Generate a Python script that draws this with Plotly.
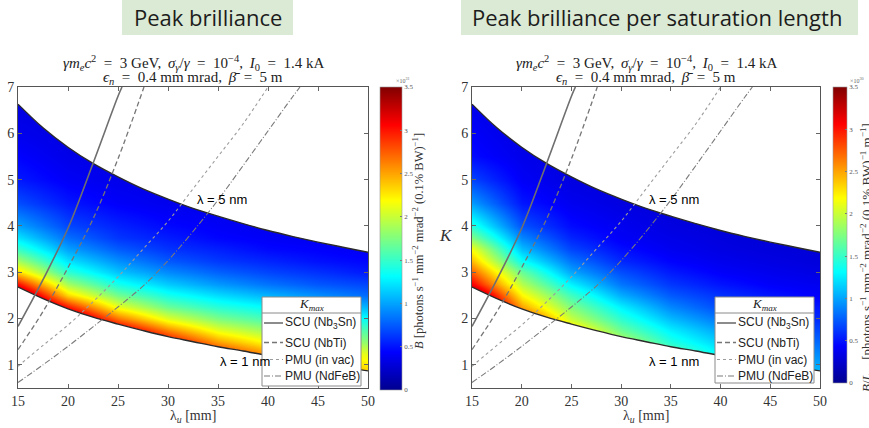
import plotly.graph_objects as go

W, H = 869, 428

# ---------------- data ----------------
# undulator period (mm) for the resonance boundaries
lam_u = [15, 17.5, 20, 22.5, 25, 27.5, 30, 32.5, 35, 37.5, 40, 42.5, 45, 47.5, 50]
k_1nm = [2.68, 2.43, 2.21, 2.03, 1.88, 1.74, 1.61, 1.50, 1.39, 1.30, 1.20, 1.12, 1.03, 0.95, 0.87]
k_5nm = [6.63, 6.12, 5.70, 5.35, 5.06, 4.80, 4.58, 4.38, 4.21, 4.05, 3.90, 3.77, 3.65, 3.54, 3.43]

# maximum K reachable by each undulator technology
scu_nb3sn_lu = [15, 17.5, 20, 22.5, 25, 25.4]
scu_nb3sn_k = [1.83, 2.84, 3.95, 5.35, 6.8, 7.0]
scu_nbti_lu = [15, 17.5, 20, 22.5, 25, 27.6]
scu_nbti_k = [1.33, 2.15, 3.1, 4.15, 5.45, 7.0]
pmu_invac_lu = [15, 17.5, 20, 22.5, 25, 27.5, 30, 32.5, 35, 37.5, 40]
pmu_invac_k = [0.97, 1.42, 1.86, 2.36, 2.9, 3.5, 4.1, 4.8, 5.5, 6.2, 7.0]
pmu_ndfeb_lu = [15, 17.5, 20, 22.5, 25, 27.5, 30, 32.5, 35, 37.5, 40, 42.5, 43.2]
pmu_ndfeb_k = [0.62, 1.0, 1.4, 1.82, 2.25, 2.7, 3.25, 3.88, 4.56, 5.3, 6.05, 6.8, 7.0]

# brilliance maps: one column per undulator period, one entry per K row
grid_lu = [15, 20, 25, 30, 35, 40, 45, 50]
grid_k = [0.5, 1, 1.25, 1.5, 1.75, 2, 2.25, 2.5, 2.75, 3, 3.25, 3.5, 3.75, 4, 4.5, 5, 5.5, 6, 6.5, 7]
peak_b = [
    [4.0, 4.0, 4.0, 4.0, 4.0, 4.0, 4.0, 3.61, 3.02, 2.31, 1.88, 1.50, 1.23, 1.00, 0.70, 0.52, 0.44, 0.37, 0.33, 0.31],
    [3.84, 3.84, 3.84, 3.84, 3.84, 3.58, 3.00, 2.31, 1.87, 1.47, 1.22, 0.99, 0.82, 0.68, 0.51, 0.41, 0.35, 0.32, 0.31, 0.31],
    [3.67, 3.67, 3.67, 3.67, 3.28, 2.69, 2.13, 1.70, 1.38, 1.11, 0.93, 0.75, 0.62, 0.55, 0.42, 0.36, 0.32, 0.31, 0.31, 0.31],
    [3.51, 3.51, 3.51, 3.13, 2.60, 2.10, 1.68, 1.38, 1.13, 0.91, 0.74, 0.61, 0.53, 0.46, 0.37, 0.33, 0.32, 0.32, 0.32, 0.32],
    [3.30, 3.22, 2.97, 2.52, 2.10, 1.75, 1.45, 1.19, 0.96, 0.77, 0.63, 0.54, 0.45, 0.41, 0.34, 0.33, 0.33, 0.33, 0.33, 0.33],
    [3.04, 2.87, 2.52, 2.17, 1.84, 1.56, 1.31, 1.05, 0.83, 0.67, 0.56, 0.46, 0.41, 0.37, 0.34, 0.34, 0.34, 0.34, 0.34, 0.34],
    [2.84, 2.48, 2.23, 1.96, 1.66, 1.43, 1.19, 0.92, 0.73, 0.60, 0.49, 0.43, 0.38, 0.36, 0.35, 0.35, 0.35, 0.35, 0.35, 0.35],
    [2.62, 2.25, 2.08, 1.80, 1.58, 1.34, 1.06, 0.80, 0.67, 0.52, 0.45, 0.39, 0.37, 0.36, 0.35, 0.35, 0.35, 0.35, 0.35, 0.35],
]
peak_b_per_lsat = [
    [4.0, 4.0, 4.0, 4.0, 4.0, 4.0, 4.0, 3.61, 3.09, 2.73, 2.42, 2.15, 1.76, 1.43, 0.97, 0.67, 0.47, 0.42, 0.37, 0.34],
    [3.18, 3.18, 3.18, 3.18, 3.18, 2.96, 2.51, 2.20, 1.93, 1.67, 1.34, 1.09, 0.90, 0.72, 0.51, 0.41, 0.36, 0.32, 0.31, 0.30],
    [2.65, 2.65, 2.65, 2.65, 2.35, 2.00, 1.76, 1.53, 1.27, 1.01, 0.84, 0.67, 0.56, 0.47, 0.38, 0.32, 0.30, 0.29, 0.29, 0.29],
    [2.21, 2.21, 2.21, 1.96, 1.68, 1.47, 1.27, 1.03, 0.84, 0.70, 0.57, 0.48, 0.41, 0.38, 0.32, 0.28, 0.28, 0.28, 0.28, 0.28],
    [1.83, 1.83, 1.66, 1.43, 1.26, 1.08, 0.90, 0.74, 0.62, 0.52, 0.44, 0.38, 0.35, 0.32, 0.28, 0.27, 0.27, 0.27, 0.27, 0.27],
    [1.58, 1.48, 1.28, 1.14, 0.99, 0.84, 0.69, 0.60, 0.50, 0.42, 0.37, 0.33, 0.31, 0.29, 0.27, 0.26, 0.26, 0.26, 0.26, 0.26],
    [1.39, 1.18, 1.06, 0.94, 0.81, 0.67, 0.59, 0.50, 0.42, 0.37, 0.33, 0.30, 0.28, 0.26, 0.26, 0.26, 0.26, 0.26, 0.26, 0.26],
    [1.23, 1.01, 0.90, 0.79, 0.68, 0.58, 0.51, 0.42, 0.38, 0.33, 0.30, 0.28, 0.26, 0.26, 0.25, 0.25, 0.25, 0.25, 0.25, 0.25],
]

cbar_ticks = [0, 0.5, 1, 1.5, 2, 2.5, 3, 3.5]
x_ticks = [15, 20, 25, 30, 35, 40, 45, 50]
y_ticks = [1, 2, 3, 4, 5, 6, 7]

# ---------------- style ----------------
JET = [[0.0, "rgb(0,0,143)"], [0.125, "rgb(0,0,255)"], [0.375, "rgb(0,255,255)"],
       [0.625, "rgb(255,255,0)"], [0.875, "rgb(255,0,0)"], [1.0, "rgb(128,0,0)"]]
SERIF = "Liberation Serif"
SANS = "Liberation Sans"
HEAD = "Open Sans"

def px(x):
    return x / W

def py(y):
    return (H - y) / H

kmax_styles = [
    ("SCU (Nb<sub>3</sub>Sn)", scu_nb3sn_lu, scu_nb3sn_k, dict(color="#6f6f6f", width=1.6, dash="solid")),
    ("SCU (NbTi)", scu_nbti_lu, scu_nbti_k, dict(color="#757575", width=1.3, dash="5px,3px")),
    ("PMU (in vac)", pmu_invac_lu, pmu_invac_k, dict(color="#9c9c9c", width=1.1, dash="dot")),
    ("PMU (NdFeB)", pmu_ndfeb_lu, pmu_ndfeb_k, dict(color="#7a7a7a", width=1.1, dash="6px,2px,1px,2px")),
]

fig = go.Figure()

panels = [
    dict(xa="x", ya="y", z=peak_b, cb_x=px(380), cb_th=22, cb_len=303, cb_y=py(238.5)),
    dict(xa="x2", ya="y2", z=peak_b_per_lsat, cb_x=px(833), cb_th=14, cb_len=296, cb_y=py(235)),
]

for p in panels:
    z_rows = [list(r) for r in zip(*p["z"])]
    fig.add_trace(go.Heatmap(
        x=grid_lu, y=grid_k, z=z_rows, xaxis=p["xa"], yaxis=p["ya"],
        colorscale=JET, zmin=0, zmax=3.5, zsmooth="best", hoverinfo="skip",
        colorbar=dict(x=p["cb_x"], xanchor="left", xref="paper", y=p["cb_y"], yanchor="middle",
                      thickness=p["cb_th"], len=p["cb_len"], lenmode="pixels",
                      xpad=0, ypad=0, outlinewidth=0.6, outlinecolor="#9a9a9a",
                      tickvals=cbar_ticks, ticktext=[f"{v:g}" for v in cbar_ticks],
                      ticks="inside", ticklen=2, tickcolor="#777",
                      tickfont=dict(family=SERIF, size=7, color="#555")),
    ))
    # blank out the region above the 5 nm line
    fig.add_trace(go.Scatter(x=lam_u, y=[7.3] * len(lam_u), mode="lines", line=dict(width=0),
                             xaxis=p["xa"], yaxis=p["ya"], showlegend=False, hoverinfo="skip"))
    fig.add_trace(go.Scatter(x=lam_u, y=k_5nm, mode="lines", fill="tonexty", fillcolor="white",
                             line=dict(color="#2b2b2b", width=1.4, shape="spline"),
                             xaxis=p["xa"], yaxis=p["ya"], showlegend=False, hoverinfo="skip"))
    # blank out the region below the 1 nm line
    fig.add_trace(go.Scatter(x=lam_u, y=[0.2] * len(lam_u), mode="lines", line=dict(width=0),
                             xaxis=p["xa"], yaxis=p["ya"], showlegend=False, hoverinfo="skip"))
    fig.add_trace(go.Scatter(x=lam_u, y=k_1nm, mode="lines", fill="tonexty", fillcolor="white",
                             line=dict(color="#2b2b2b", width=1.4, shape="spline"),
                             xaxis=p["xa"], yaxis=p["ya"], showlegend=False, hoverinfo="skip"))
    for name, xs, ks, ln in kmax_styles:
        fig.add_trace(go.Scatter(x=xs, y=ks, mode="lines", name=name, showlegend=False,
                                 line=dict(shape="spline", **ln),
                                 xaxis=p["xa"], yaxis=p["ya"], hoverinfo="skip"))

axis_common = dict(range=[15, 50], tickvals=x_ticks, ticks="inside", ticklen=4, tickcolor="#666",
                   showline=True, linecolor="#555", linewidth=1, mirror="ticks", showgrid=False,
                   zeroline=False, automargin=False,
                   tickfont=dict(family=SERIF, size=14, color="#333"))
yaxis_common = dict(range=[0.5, 7], tickvals=y_ticks, ticks="inside", ticklen=4, tickcolor="#666",
                    showline=True, linecolor="#555", linewidth=1, mirror="ticks", showgrid=False,
                    zeroline=False, automargin=False,
                    tickfont=dict(family=SERIF, size=14, color="#333"))

ann = []
shapes = [
    dict(type="rect", xref="paper", yref="paper", x0=px(122), x1=px(293), y0=py(35), y1=py(0),
         fillcolor="#dbead4", line=dict(width=0), layer="below"),
    dict(type="rect", xref="paper", yref="paper", x0=px(461), x1=px(858), y0=py(35), y1=py(0),
         fillcolor="#dbead4", line=dict(width=0), layer="below"),
]

# K_max key boxes, one per panel (left, right, top, bottom in pixels)
def add_key(x0, x1, y0, y1):
    shapes.append(dict(type="rect", xref="paper", yref="paper", x0=px(x0), x1=px(x1), y0=py(y1), y1=py(y0),
                       fillcolor="white", line=dict(color="#8a8a8a", width=1)))
    shapes.append(dict(type="line", xref="paper", yref="paper", x0=px(x0), x1=px(x1), y0=py(y0 + 16),
                       y1=py(y0 + 16), line=dict(color="#8a8a8a", width=1)))
    ann.append(dict(text="<i>K</i><sub><i>max</i></sub>", x=px((x0 + x1) / 2), y=py(y0 + 7),
                    xref="paper", yref="paper", showarrow=False, xanchor="center", yanchor="middle",
                    font=dict(family=SERIF, size=13, color="#222")))
    row_y = [y0 + 26, y0 + 45.5, y0 + 62.5, y0 + 79]
    for (name, _, _, ln), ry in zip(kmax_styles, row_y):
        shapes.append(dict(type="line", xref="paper", yref="paper", x0=px(x0 + 2), x1=px(x0 + 21),
                           y0=py(ry), y1=py(ry), line=dict(color=ln["color"], width=ln["width"], dash=ln["dash"])))
        ann.append(dict(text=name, x=px(x0 + 21), y=py(ry), xref="paper", yref="paper", showarrow=False,
                        xanchor="left", yanchor="middle", font=dict(family=SANS, size=12, color="#222")))

add_key(262, 361, 297, 386)
add_key(715, 814, 297, 383)

EQ = "\u2002=\u2002"
CM = ",\u2009 "
sub1 = (f"<i>γm<sub>e</sub>c</i><sup>2</sup>{EQ}3 GeV{CM}<i>σ<sub>γ</sub></i>/<i>γ</i>{EQ}10<sup>−4</sup>{CM}"
        f"<i>I</i><sub>0</sub>{EQ}1.4 kA")
sub2 = f"<i>ϵ<sub>n</sub></i>{EQ}0.4 mm mrad{CM}<i>β̄</i>{EQ}5 m"
for cx in (193, 646):
    ann.append(dict(text=sub1, x=px(cx), y=py(63), xref="paper", yref="paper", showarrow=False,
                    xanchor="center", yanchor="middle", font=dict(family=SERIF, size=15, color="#222")))
    ann.append(dict(text=sub2, x=px(cx), y=py(78), xref="paper", yref="paper", showarrow=False,
                    xanchor="center", yanchor="middle", font=dict(family=SERIF, size=15, color="#222")))

for xr, yr, lab_x in (("x", "y", 32.7), ("x2", "y2", 32.6)):
    ann.append(dict(text="λ = 5 nm", x=lab_x, y=4.56, xref=xr, yref=yr, showarrow=False,
                    xanchor="left", yanchor="middle", font=dict(family=SANS, size=13, color="black")))
ann.append(dict(text="λ = 1 nm", x=35.0, y=1.07, xref="x", yref="y", showarrow=False,
                xanchor="left", yanchor="middle", font=dict(family=SANS, size=13, color="black")))
ann.append(dict(text="λ = 1 nm", x=32.6, y=1.07, xref="x2", yref="y2", showarrow=False,
                xanchor="left", yanchor="middle", font=dict(family=SANS, size=13, color="black")))

for xr in ("x domain", "x2 domain"):
    ann.append(dict(text="λ<sub><i>u</i></sub> [mm]", x=0.5, y=py(416), xref=xr, yref="paper",
                    showarrow=False, xanchor="center", yanchor="middle",
                    font=dict(family=SERIF, size=14, color="#333")))
ann.append(dict(text="<i>K</i>", x=px(446), y=py(236), xref="paper", yref="paper", showarrow=False,
                xanchor="center", yanchor="middle", font=dict(family=SERIF, size=17, color="#333")))

ann.append(dict(text="<i>B</i> [photons s<sup>−1</sup> mm<sup>−2</sup> mrad<sup>−2</sup> (0.1% BW)<sup>−1</sup>]",
                x=px(418), y=py(241), xref="paper", yref="paper", showarrow=False, textangle=-90,
                xanchor="center", yanchor="middle", font=dict(family=SERIF, size=12.5, color="#333")))
ann.append(dict(text="<i>B</i>/<i>L</i><sub>sat</sub> [photons s<sup>−1</sup> mm<sup>−2</sup> mrad<sup>−2</sup> "
                     "(0.1% BW)<sup>−1</sup> m<sup>−1</sup>]",
                x=px(867), y=py(258), xref="paper", yref="paper", showarrow=False, textangle=-90,
                xanchor="center", yanchor="middle", font=dict(family=SERIF, size=13, color="#333")))
ann.append(dict(text="×10<sup>31</sup>", x=px(403), y=py(80), xref="paper", yref="paper", showarrow=False,
                xanchor="center", yanchor="middle", font=dict(family=SERIF, size=6, color="#666")))
ann.append(dict(text="×10<sup>30</sup>", x=px(857), y=py(80), xref="paper", yref="paper", showarrow=False,
                xanchor="center", yanchor="middle", font=dict(family=SERIF, size=6, color="#666")))

# slide-style headers
ann.append(dict(text="Peak brilliance", x=px(207.5), y=py(17.5), xref="paper", yref="paper",
                showarrow=False, xanchor="center", yanchor="middle",
                font=dict(family=HEAD, size=22, color="#1c1c1c")))
ann.append(dict(text="Peak brilliance per saturation length", x=px(657), y=py(17.5), xref="paper",
                yref="paper", showarrow=False, xanchor="center", yanchor="middle",
                font=dict(family=HEAD, size=22, color="#1c1c1c")))

fig.update_layout(
    width=W, height=H, margin=dict(l=0, r=0, t=0, b=0, autoexpand=False),
    paper_bgcolor="white", plot_bgcolor="white", showlegend=False,
    xaxis=dict(domain=[px(18), px(368)], anchor="y", **axis_common),
    yaxis=dict(domain=[py(388), py(87)], anchor="x", **yaxis_common),
    xaxis2=dict(domain=[px(472), px(820)], anchor="y2", **axis_common),
    yaxis2=dict(domain=[py(388), py(87)], anchor="x2", **yaxis_common),
    annotations=ann, shapes=shapes,
)

fig.write_html("out.html")
